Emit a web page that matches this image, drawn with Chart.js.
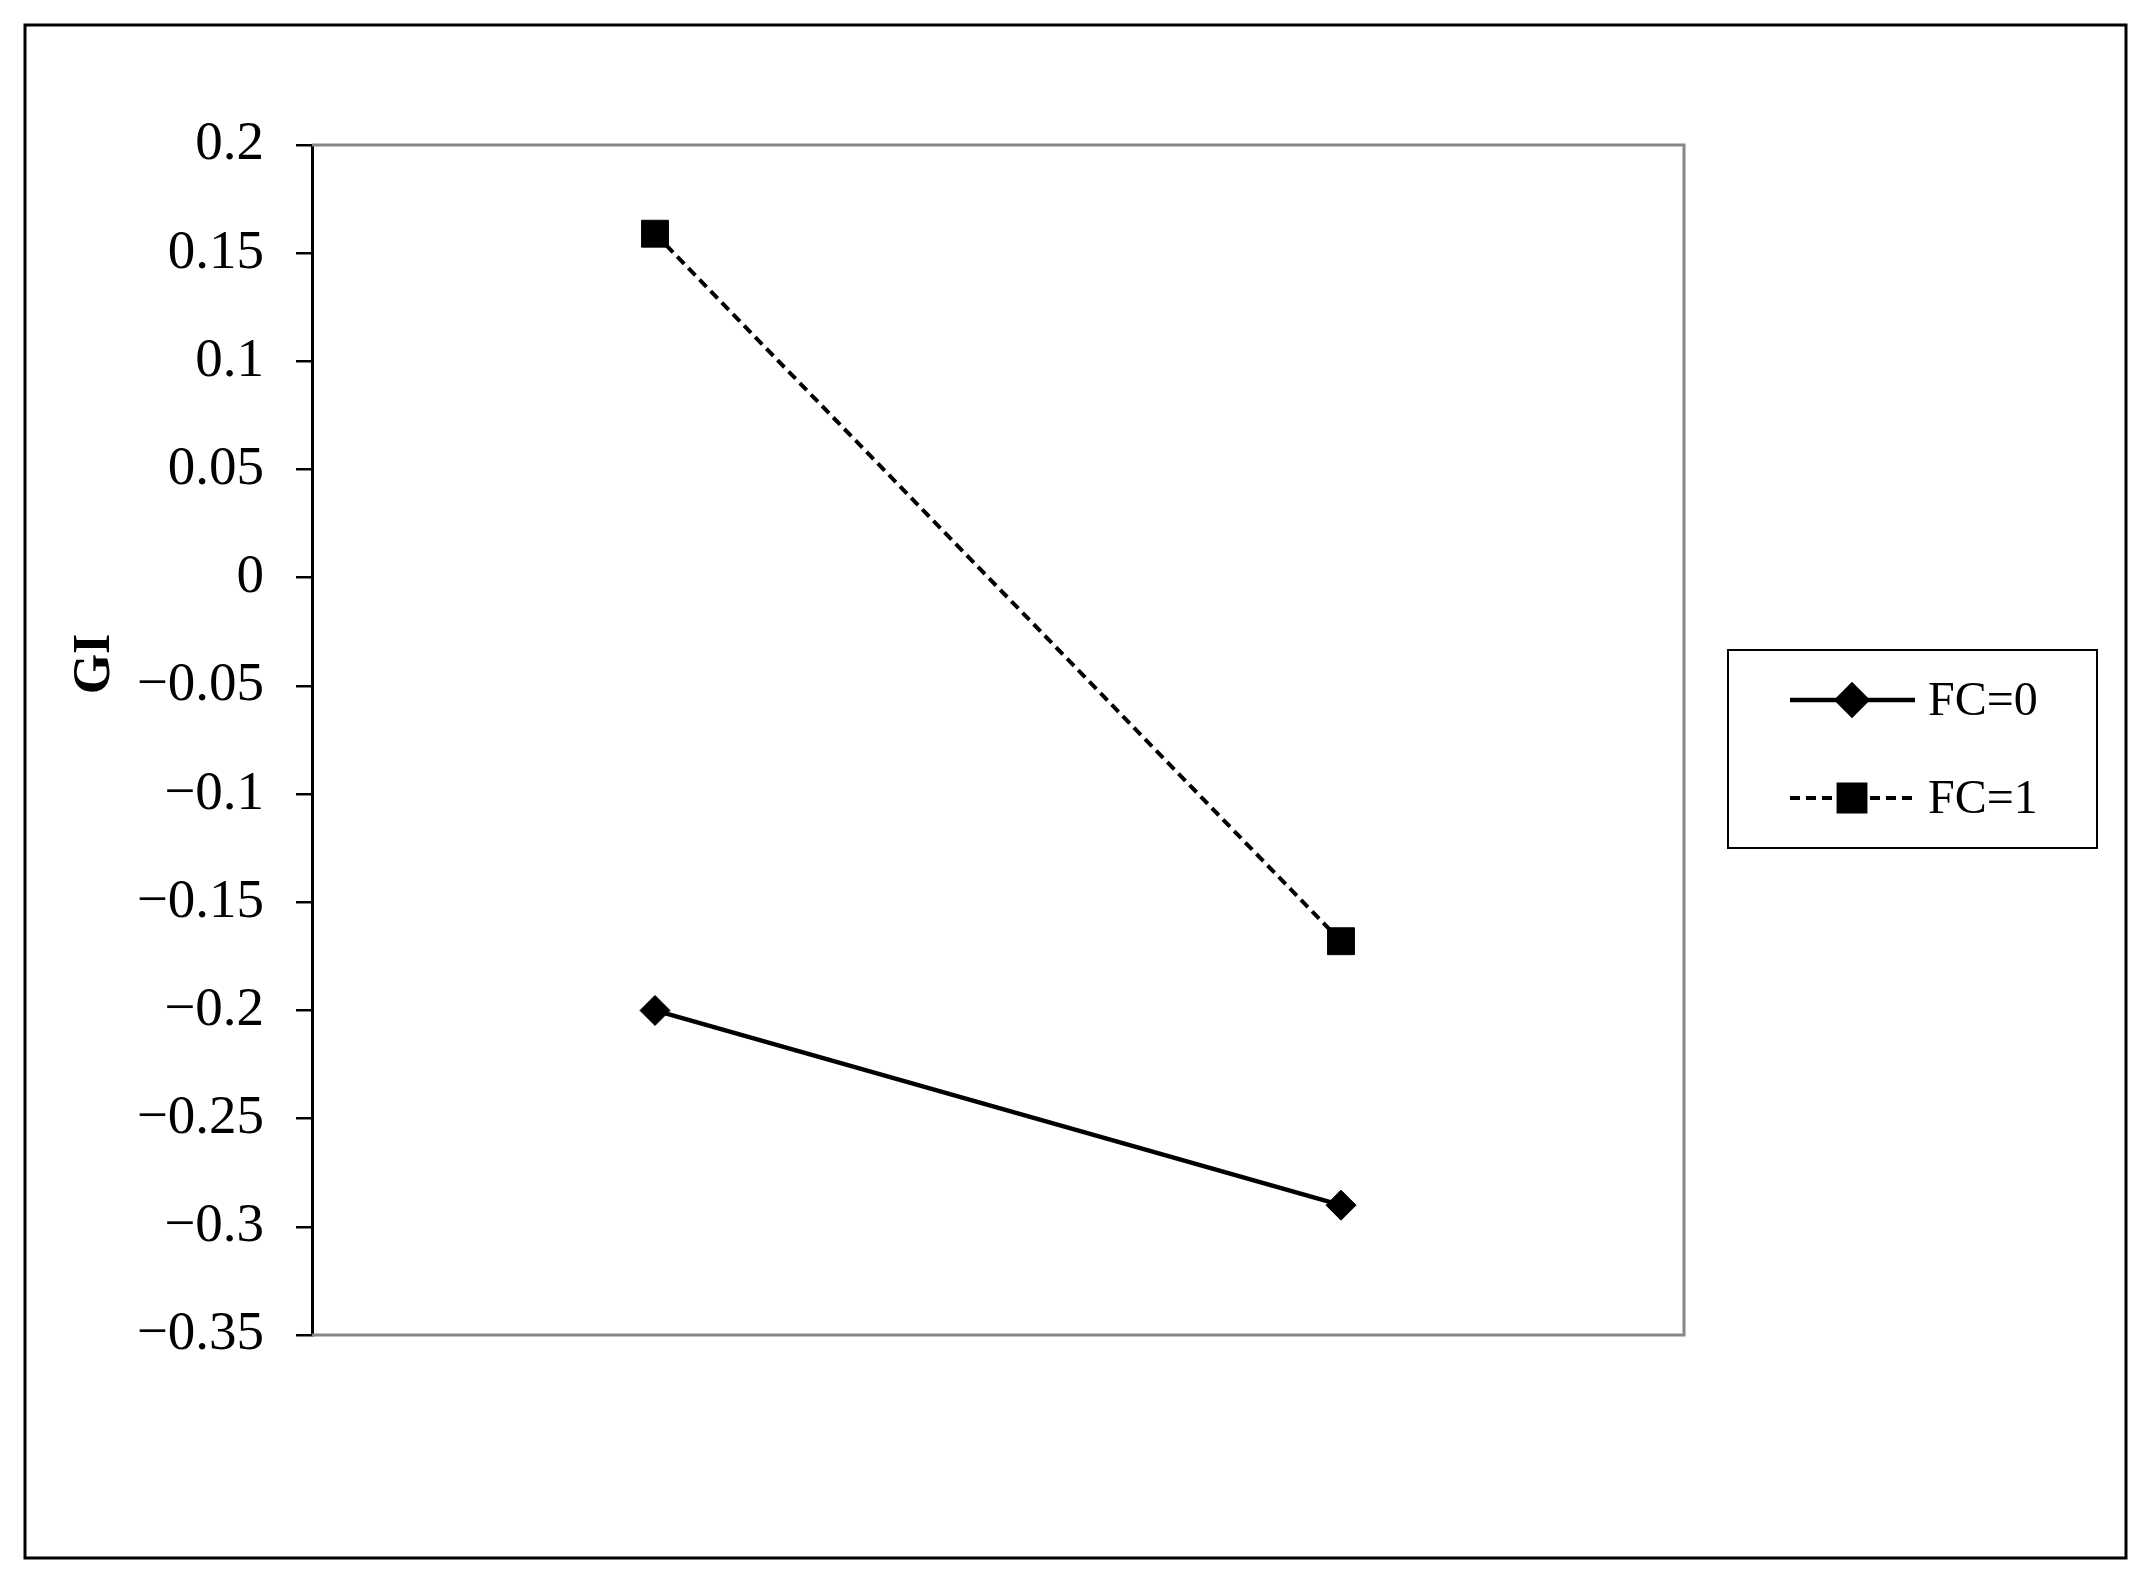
<!DOCTYPE html>
<html>
<head>
<meta charset="utf-8">
<script src="https://cdn.jsdelivr.net/npm/chart.js@4.4.0/dist/chart.umd.min.js"></script>
<style>
  html, body { margin: 0; padding: 0; background: #fff; }
  canvas { display: block; }
</style>
</head>
<body>
<canvas id="giChart" width="2147" height="1590"></canvas>
<script>
// values
const categories = ['', ''];
const fc0Values = [-0.2, -0.29];
const fc1Values = [0.159, -0.168];
const seriesNames = ['FC=0', 'FC=1'];
const yTitle = 'GI';
const yMin = -0.35, yMax = 0.2, yStep = 0.05;

const serif = "'Liberation Serif', 'Times New Roman', serif";

function fmtTick(v) {
    const s = String(Number(v.toFixed(2)));
    return s.replace('-', '\u2212');
}

// frame, outer border, axis title and boxed legend
const framePlugin = {
    id: 'frame',
    beforeDatasetsDraw(chart) {
        const { ctx, chartArea: a } = chart;
        ctx.save();
        ctx.strokeStyle = '#868686';
        ctx.lineWidth = 3;
        ctx.beginPath();
        ctx.moveTo(a.left, a.top);
        ctx.lineTo(a.right, a.top);
        ctx.lineTo(a.right, a.bottom);
        ctx.lineTo(a.left, a.bottom);
        ctx.stroke();
        ctx.restore();
    },
    afterDraw(chart) {
        const { ctx } = chart;
        ctx.save();
        // outer border
        ctx.strokeStyle = '#000';
        ctx.lineWidth = 3;
        ctx.strokeRect(25, 25, 2101, 1533);

        // y title, sits a bit above the plot's middle like the original
        ctx.save();
        ctx.translate(96, 664);
        ctx.rotate(-Math.PI / 2);
        ctx.fillStyle = '#000';
        ctx.font = 'bold 52px ' + serif;
        ctx.textAlign = 'center';
        ctx.textBaseline = 'middle';
        ctx.fillText(yTitle, 0, 0);
        ctx.restore();

        // legend box
        ctx.lineWidth = 2;
        ctx.strokeRect(1728, 650, 369, 198);
        const rows = [700, 798];
        chart.data.datasets.forEach((ds, i) => {
            const y = rows[i];
            ctx.strokeStyle = ds.borderColor;
            ctx.lineWidth = ds.borderWidth;
            ctx.setLineDash(ds.borderDash || []);
            ctx.beginPath();
            ctx.moveTo(1790, y);
            ctx.lineTo(1915, y);
            ctx.stroke();
            ctx.setLineDash([]);
            Chart.helpers.drawPoint(ctx, {
                pointStyle: ds.pointStyle,
                radius: ds.pointRadius,
                borderWidth: 1
            }, 1852, y);
            ctx.fillStyle = '#000';
            ctx.fill();
            ctx.font = '48px ' + serif;
            ctx.textAlign = 'left';
            ctx.textBaseline = 'middle';
            ctx.fillText(ds.label, 1928, y + 2);
        });
        ctx.restore();
    }
};

new Chart(document.getElementById('giChart'), {
    type: 'line',
    data: {
        labels: categories,
        datasets: [
            {
                label: seriesNames[0],
                data: fc0Values,
                borderColor: '#000',
                backgroundColor: '#000',
                borderWidth: 4.5,
                pointStyle: 'rectRot',
                pointRadius: 15,
                pointBorderWidth: 1,
                fill: false
            },
            {
                label: seriesNames[1],
                data: fc1Values,
                borderColor: '#000',
                backgroundColor: '#000',
                borderWidth: 4,
                borderDash: [10, 6],
                pointStyle: 'rect',
                pointRadius: 19,
                pointBorderWidth: 1,
                fill: false
            }
        ]
    },
    options: {
        responsive: false,
        animation: false,
        layout: { padding: { top: 145, bottom: 255, left: 0, right: 463 } },
        plugins: {
            legend: { display: false },
            tooltip: { enabled: false }
        },
        scales: {
            x: {
                display: false,
                offset: true
            },
            y: {
                min: yMin,
                max: yMax,
                afterFit(scale) { scale.width = 312; },
                ticks: {
                    stepSize: yStep,
                    padding: 32,
                    color: '#000',
                    font: { family: serif, size: 55 },
                    callback: (v) => fmtTick(v)
                },
                grid: {
                    drawOnChartArea: false,
                    drawTicks: true,
                    tickLength: 16,
                    color: '#000',
                    lineWidth: 2.5
                },
                border: { color: '#000', width: 3 }
            }
        }
    },
    plugins: [framePlugin]
});
</script>
</body>
</html>
